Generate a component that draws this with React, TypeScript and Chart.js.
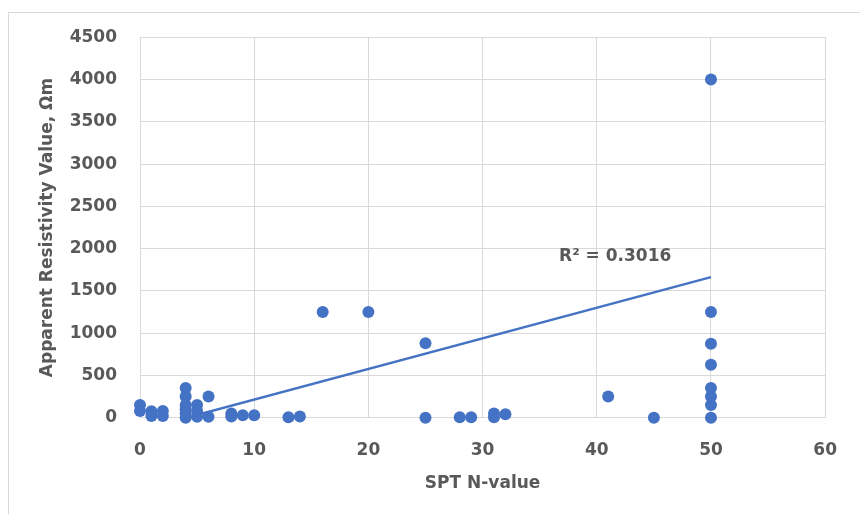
import React, { useEffect, useRef } from "react";
import { Chart, registerables } from "chart.js";

Chart.register(...registerables);

// SPT N-value (x) and apparent resistivity (y) pairs
const nValues = [
  0, 0,
  1, 1,
  2, 2,
  4, 4, 4, 4, 4, 4,
  5, 5, 5,
  6, 6,
  8, 8,
  9, 10, 13, 14,
  16, 20,
  25, 25,
  28, 29,
  31, 31, 32,
  41, 45,
  50, 50, 50, 50, 50, 50, 50, 50,
];
const resistivity = [
  150, 80,
  75, 20,
  80, 20,
  350, 250, 150, 100, 50, 0,
  150, 80, 10,
  250, 10,
  50, 15,
  30, 30, 5, 15,
  1250, 1250,
  880, 0,
  5, 5,
  50, 5, 40,
  250, 0,
  4000, 1250, 875, 625, 350, 250, 150, 0,
];

// Linear trendline endpoints (clipped at y = 0 as in the original)
const trendX = [4.08, 50];
const trendY = [0, 1663];
const r2Label = "R\u00B2 = 0.3016";
const r2Anchor = [36.7, 1905];

const xTitle = "SPT N-value";
const yTitle = "Apparent Resistivity Value, \u03A9m";

const FONT = "'DejaVu Sans', sans-serif";
const TEXT = "#595959";
const GRID = "#d9d9d9";
const BLUE = "#4472C4";

const r2Plugin = {
  id: "r2Label",
  afterDatasetsDraw(chart: any) {
    const { ctx, scales } = chart;
    const px = scales.x.getPixelForValue(r2Anchor[0]);
    const py = scales.y.getPixelForValue(r2Anchor[1]);
    ctx.save();
    ctx.font = `bold 17px ${FONT}`;
    ctx.fillStyle = TEXT;
    ctx.textAlign = "left";
    ctx.textBaseline = "middle";
    ctx.fillText(r2Label, px, py);
    ctx.restore();
  },
};

export default function App() {
  const ref = useRef<HTMLCanvasElement | null>(null);

  useEffect(() => {
    if (!ref.current) return;
    const points = nValues.map((x, i) => ({ x, y: resistivity[i] }));
    const trend = trendX.map((x, i) => ({ x, y: trendY[i] }));
    const font = { family: FONT, size: 17, weight: "bold" as const };
    const plain = (v: any) => String(v);
    const chart = new Chart(ref.current, {
      type: "scatter",
      data: {
        datasets: [
          {
            label: "Resistivity",
            data: points,
            backgroundColor: BLUE,
            borderColor: BLUE,
            borderWidth: 0,
            pointRadius: 6,
            pointHoverRadius: 6,
            clip: false as any,
            order: 2,
          },
          {
            label: "Linear trend",
            type: "line",
            data: trend,
            borderColor: BLUE,
            borderWidth: 2.5,
            pointRadius: 0,
            showLine: true,
            fill: false,
            order: 1,
          } as any,
        ],
      },
      options: {
        animation: false,
        responsive: false,
        devicePixelRatio: 1,
        layout: { padding: { top: 37.3, right: 20.7, left: 0, bottom: 0 } },
        plugins: {
          legend: { display: false },
          tooltip: { enabled: false },
        },
        scales: {
          x: {
            type: "linear",
            min: 0,
            max: 60,
            ticks: { stepSize: 10, color: TEXT, font, padding: 23, callback: plain },
            grid: { color: GRID, lineWidth: 1, drawTicks: false },
            border: { color: GRID },
            title: {
              display: true,
              text: xTitle,
              color: TEXT,
              font,
              padding: { top: 0, bottom: 19.8 },
            },
            afterFit: (s: any) => {
              s.height = 96.3;
            },
          },
          y: {
            type: "linear",
            min: 0,
            max: 4500,
            ticks: { stepSize: 500, color: TEXT, font, padding: 23, callback: plain },
            grid: { color: GRID, lineWidth: 1, drawTicks: false },
            border: { color: GRID },
            title: {
              display: true,
              text: yTitle,
              color: TEXT,
              font,
              padding: { top: 37.8, bottom: 0 },
            },
            afterFit: (s: any) => {
              s.width = 140;
            },
          },
        },
      },
      plugins: [r2Plugin],
    });
    return () => chart.destroy();
  }, []);

  return (
    <div
      style={{
        position: "fixed",
        left: 0,
        top: 0,
        width: 860,
        height: 514,
        overflow: "hidden",
        background: "#ffffff",
      }}
    >
      <div
        style={{
          position: "absolute",
          left: 8,
          top: 12,
          width: 1000,
          height: 1000,
          borderLeft: `1px solid ${GRID}`,
          borderTop: `1px solid ${GRID}`,
        }}
      />
      <canvas
        ref={ref}
        width={860}
        height={514}
        style={{ position: "absolute", left: 0, top: 0, width: 860, height: 514 }}
      />
    </div>
  );
}
